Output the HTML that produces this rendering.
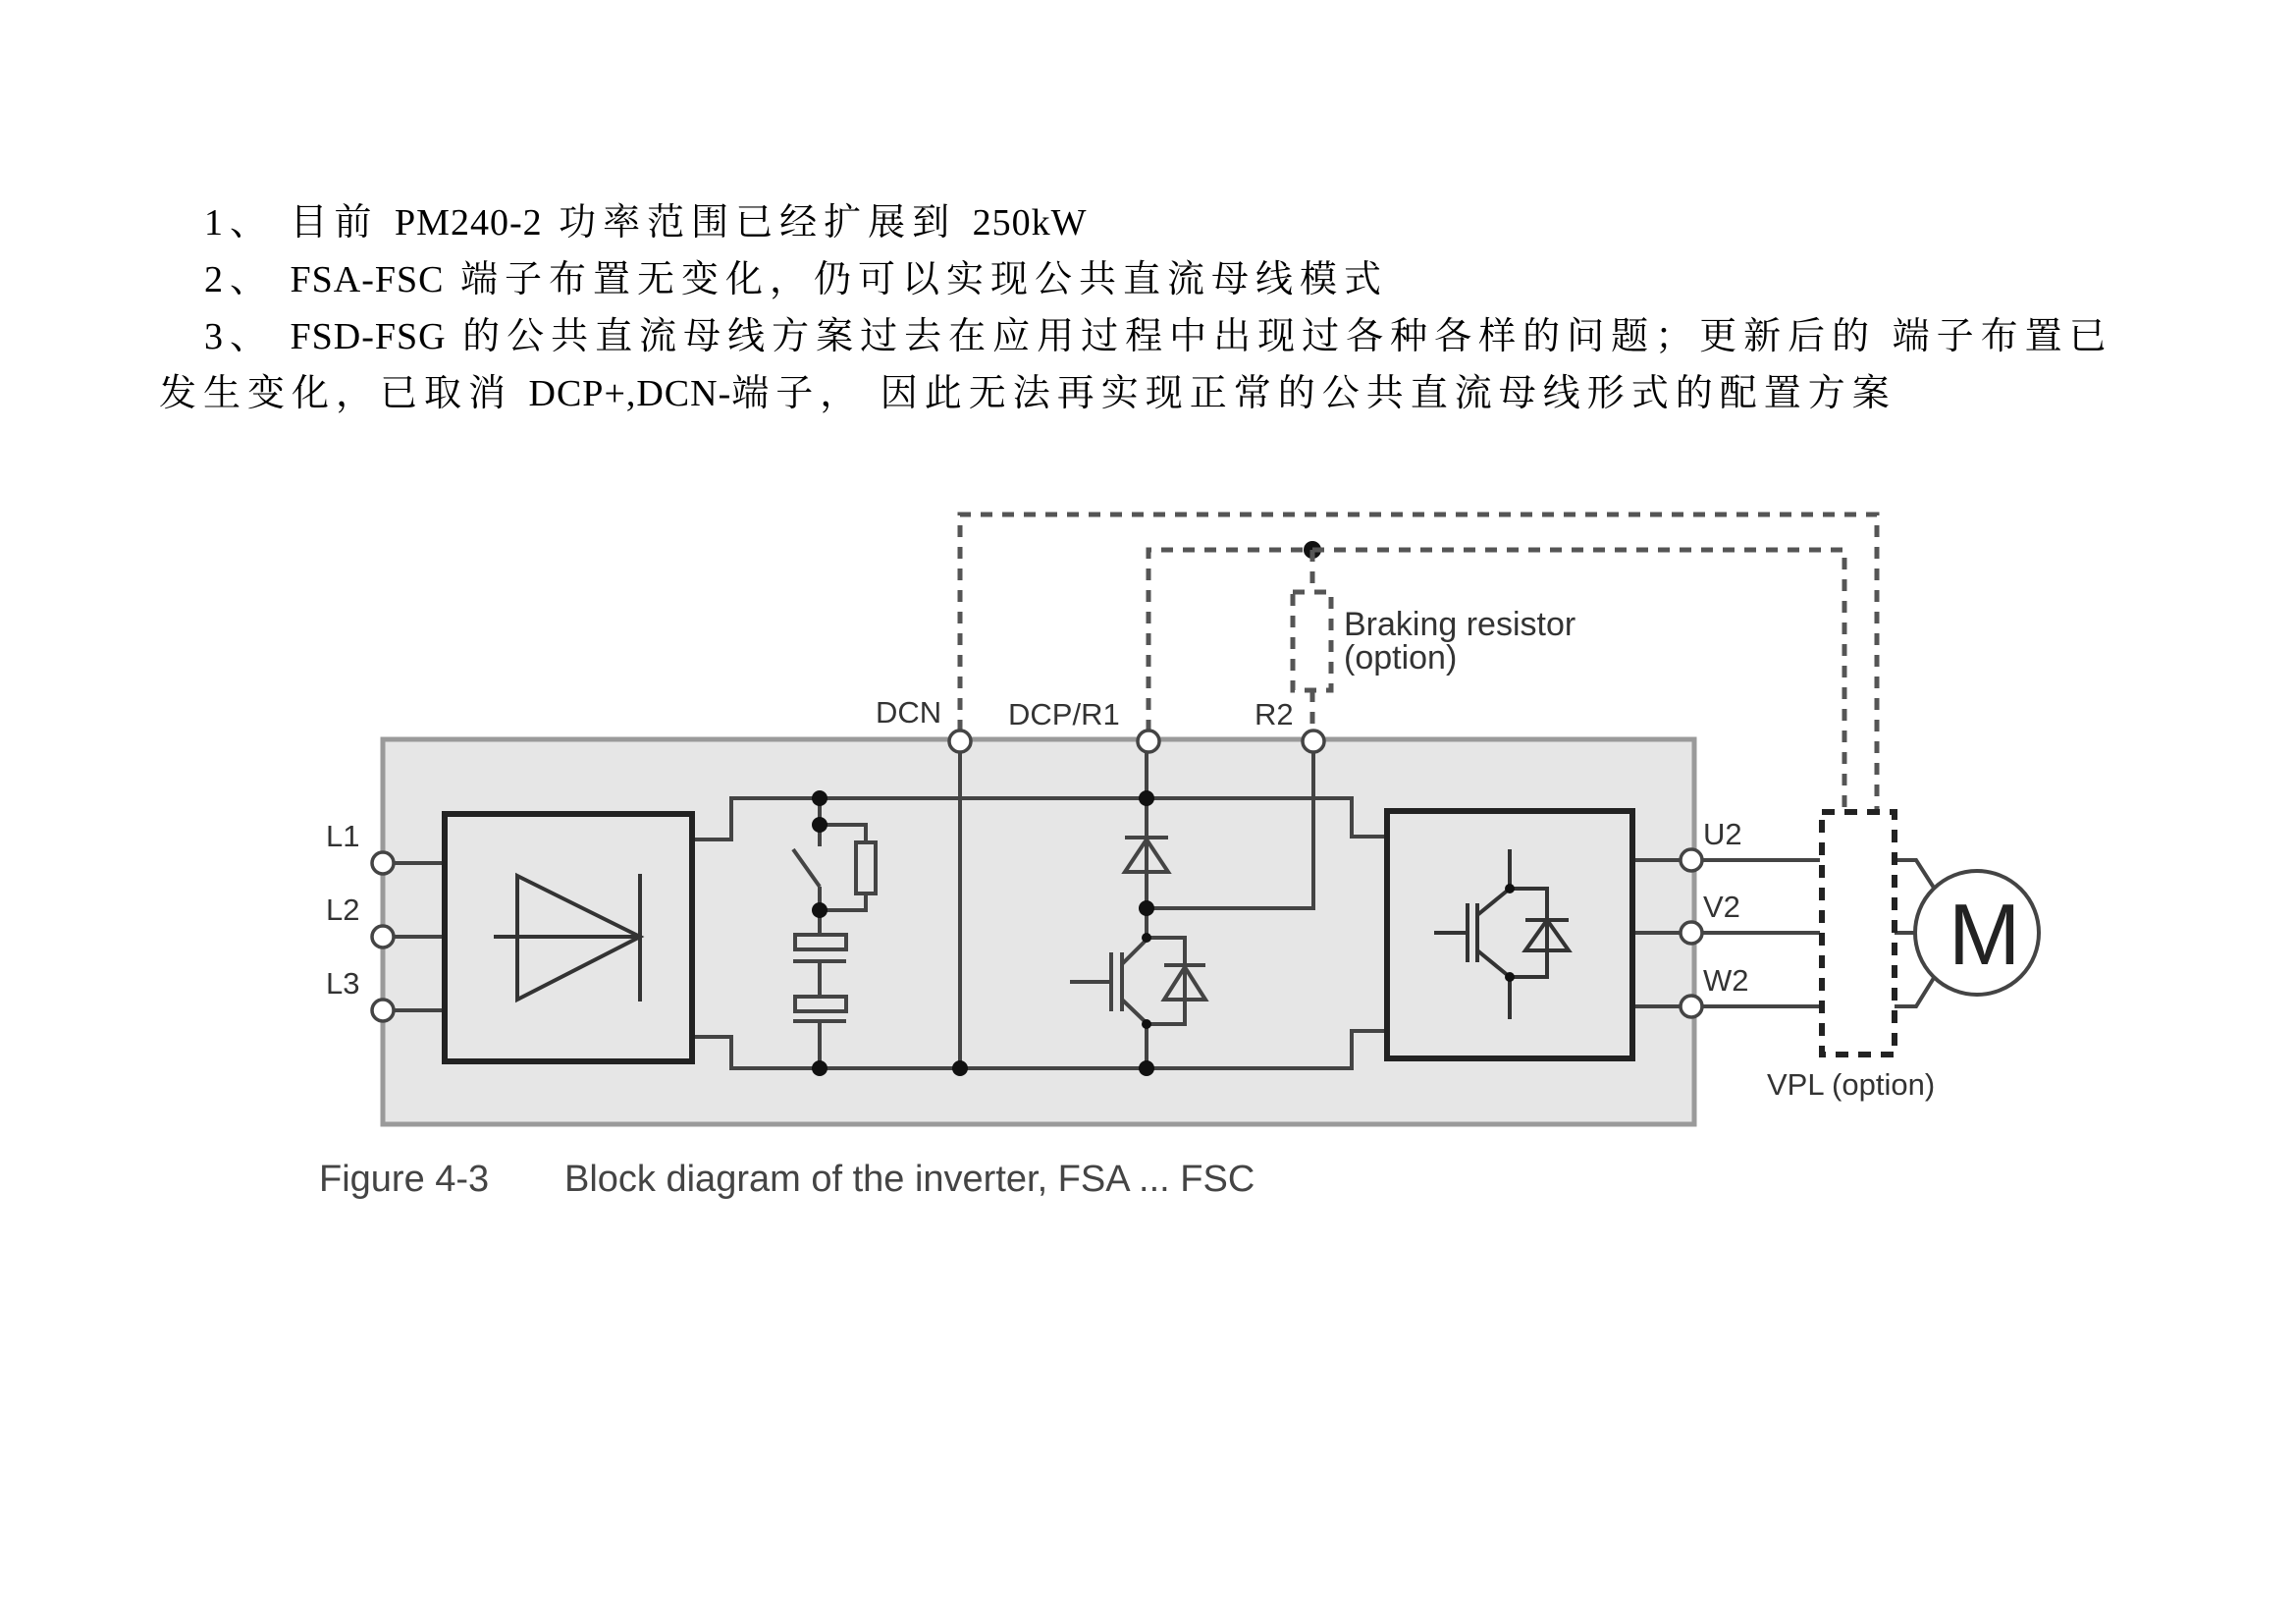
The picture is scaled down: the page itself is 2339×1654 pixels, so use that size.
<!DOCTYPE html>
<html><head><meta charset="utf-8"><style>
html,body{margin:0;padding:0;background:#fff;}
body{width:2339px;height:1654px;position:relative;overflow:hidden;}
.t{position:absolute;font-family:"Liberation Serif","Noto Serif CJK SC",serif;font-size:38px;letter-spacing:7px;color:#000;white-space:nowrap;line-height:1;}
.t span{letter-spacing:1px;}
</style></head><body>
<div class="t" style="left:208px;top:208px;">1、 目前 <span>PM240-2</span> 功率范围已经扩展到 <span>250kW</span></div>
<div class="t" style="left:208px;top:266px;">2、 <span>FSA-FSC</span> 端子布置无变化，仍可以实现公共直流母线模式</div>
<div class="t" style="left:208px;top:324px;">3、 <span>FSD-FSG</span> 的公共直流母线方案过去在应用过程中出现过各种各样的问题；更新后的 端子布置已</div>
<div class="t" style="left:162px;top:382px;">发生变化，已取消 <span>DCP+,DCN-</span>端子， 因此无法再实现正常的公共直流母线形式的配置方案</div>
<svg width="2339" height="1654" style="position:absolute;left:0;top:0" xmlns="http://www.w3.org/2000/svg">
<g font-family="Liberation Sans, sans-serif" fill="#333">
<rect x="390" y="753" width="1336" height="392" fill="#e6e6e6" stroke="#9a9a9a" stroke-width="5"/>
<g stroke="#444" stroke-width="4" fill="none">
<line x1="390" y1="879" x2="453" y2="879"/><line x1="390" y1="954" x2="453" y2="954"/><line x1="390" y1="1029" x2="453" y2="1029"/>
<polyline points="705,855 745,855 745,813 1377,813 1377,852 1413,852"/>
<polyline points="705,1056 745,1056 745,1088 1377,1088 1377,1050 1413,1050"/>
<line x1="978" y1="755" x2="978" y2="1088"/>
<line x1="1168" y1="755" x2="1168" y2="955"/>
<line x1="1168" y1="1043" x2="1168" y2="1088"/>
<polyline points="1338,755 1338,925 1168,925"/>
<line x1="1146" y1="853" x2="1190" y2="853"/>
<polygon points="1168,855 1146,888 1190,888"/>
<line x1="1090" y1="1000" x2="1132" y2="1000"/>
<line x1="1132" y1="970" x2="1132" y2="1030"/>
<line x1="1143" y1="970" x2="1143" y2="1030"/>
<line x1="1143" y1="982" x2="1168" y2="957"/>
<line x1="1143" y1="1018" x2="1168" y2="1042"/>
<polyline points="1168,955 1207,955 1207,1043 1168,1043"/>
<line x1="1186" y1="983" x2="1228" y2="983"/>
<polygon points="1207,985 1186,1018 1228,1018"/>
<line x1="835" y1="813" x2="835" y2="862"/>
<polyline points="835,840 882,840 882,858"/>
<rect x="872" y="858" width="20" height="52"/>
<polyline points="882,910 882,927 835,927"/>
<line x1="808" y1="865" x2="835" y2="903"/>
<line x1="835" y1="903" x2="835" y2="952"/>
<rect x="810" y="952" width="52" height="15"/>
<line x1="808" y1="979" x2="862" y2="979"/>
<line x1="835" y1="979" x2="835" y2="1015"/>
<rect x="810" y="1015" width="52" height="15"/>
<line x1="808" y1="1040" x2="862" y2="1040"/>
<line x1="835" y1="1040" x2="835" y2="1088"/>
<line x1="1663" y1="876" x2="1854" y2="876"/><line x1="1663" y1="950" x2="1854" y2="950"/><line x1="1663" y1="1025" x2="1854" y2="1025"/>
<polyline points="1930,876 1952,876 1970,904"/>
<line x1="1930" y1="950" x2="1951" y2="950"/>
<polyline points="1930,1025 1952,1025 1970,996"/>
<circle cx="2014" cy="950" r="63" stroke-width="4"/>
</g>
<rect x="453" y="829" width="252" height="252" fill="#e6e6e6" stroke="#222" stroke-width="6"/>
<rect x="1413" y="826" width="250" height="252" fill="#e6e6e6" stroke="#222" stroke-width="6"/>
<g stroke="#333" stroke-width="4" fill="none">
<polygon points="527,892 652,954 527,1018"/>
<line x1="652" y1="890" x2="652" y2="1020"/>
<line x1="503" y1="954" x2="652" y2="954"/>
<line x1="1461" y1="950" x2="1495" y2="950"/>
<line x1="1495" y1="920" x2="1495" y2="980"/>
<line x1="1505" y1="920" x2="1505" y2="980"/>
<line x1="1538" y1="865" x2="1538" y2="905"/>
<line x1="1538" y1="995" x2="1538" y2="1038"/>
<line x1="1505" y1="932" x2="1538" y2="905"/>
<line x1="1505" y1="968" x2="1538" y2="995"/>
<polyline points="1538,905 1576,905 1576,995 1538,995"/>
<line x1="1554" y1="937" x2="1598" y2="937"/>
<polygon points="1576,937 1554,968 1598,968"/>
</g>
<g fill="#111">
<circle cx="835" cy="813" r="8"/><circle cx="835" cy="840" r="8"/><circle cx="835" cy="927" r="8"/><circle cx="835" cy="1088" r="8"/>
<circle cx="978" cy="1088" r="8"/>
<circle cx="1168" cy="813" r="8"/><circle cx="1168" cy="925" r="8"/><circle cx="1168" cy="1088" r="8"/>
<circle cx="1168" cy="955" r="5"/><circle cx="1168" cy="1043" r="5"/>
<circle cx="1538" cy="905" r="5"/><circle cx="1538" cy="995" r="5"/>
<circle cx="1337" cy="560" r="9"/>
</g>
<g stroke="#555" stroke-width="5" fill="none" stroke-dasharray="12,10">
<polyline points="978,745 978,524 1912,524 1912,825"/>
<polyline points="1170,745 1170,560 1879,560 1879,825"/>
<line x1="1337" y1="703" x2="1337" y2="745"/>
<rect x="1317" y="603" width="39" height="100"/>
<line x1="1337" y1="560" x2="1337" y2="603"/>
</g>
<rect x="1856" y="827" width="74" height="247" fill="none" stroke="#222" stroke-width="6" stroke-dasharray="13,10"/>
<g fill="#fff" stroke="#444" stroke-width="3.5">
<circle cx="390" cy="879" r="11"/><circle cx="390" cy="954" r="11"/><circle cx="390" cy="1029" r="11"/>
<circle cx="978" cy="755" r="11"/><circle cx="1170" cy="755" r="11"/><circle cx="1338" cy="755" r="11"/>
<circle cx="1723" cy="876" r="11"/><circle cx="1723" cy="950" r="11"/><circle cx="1723" cy="1025" r="11"/>
</g>
<g font-size="31" fill="#333">
<text x="332" y="862">L1</text><text x="332" y="937">L2</text><text x="332" y="1012">L3</text>
<text x="892" y="736">DCN</text><text x="1027" y="738">DCP/R1</text><text x="1278" y="738">R2</text>
<text x="1735" y="860">U2</text><text x="1735" y="934">V2</text><text x="1735" y="1009">W2</text>
<text x="1800" y="1115">VPL (option)</text>
</g>
<g font-size="34" fill="#333">
<text x="1369" y="647">Braking resistor</text><text x="1369" y="681">(option)</text>
</g>
<text x="1985" y="982" font-size="88" fill="#222">M</text>
<text x="325" y="1213" font-size="38" fill="#444">Figure 4-3</text>
<text x="575" y="1213" font-size="38" fill="#444">Block diagram of the inverter, FSA ... FSC</text>
</g>
</svg>
</body></html>
